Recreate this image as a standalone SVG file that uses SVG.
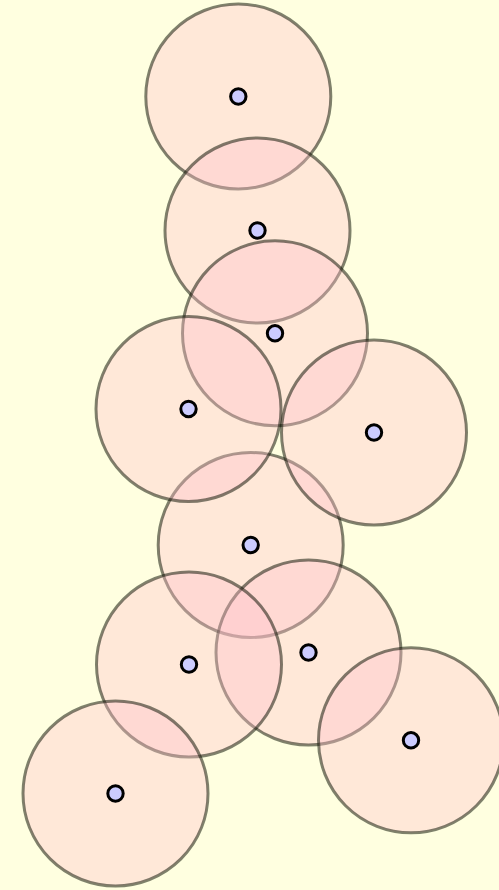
<svg xmlns="http://www.w3.org/2000/svg" width="499" height="890" viewBox="0 0 499 890">
<style>
.c{fill:rgb(255,192,203);fill-opacity:0.36;stroke:#0a0f00;stroke-opacity:0.52;stroke-width:3}
.p{fill:#ccccff;stroke:#000;stroke-width:3}
</style>
<rect width="499" height="890" fill="#ffffe0"/>
<g id="circles">
<circle class="c" cx="238.3" cy="96.5" r="92.5"/>
<circle class="c" cx="257.5" cy="230.5" r="92.5"/>
<circle class="c" cx="275" cy="333.3" r="92.5"/>
<circle class="c" cx="250.7" cy="545" r="92.5"/>
<circle class="c" cx="188.5" cy="409" r="92.5"/>
<circle class="c" cx="374" cy="432.5" r="92.5"/>
<circle class="c" cx="308.5" cy="652.5" r="92.5"/>
<circle class="c" cx="189" cy="664.5" r="92.5"/>
<circle class="c" cx="411" cy="740.3" r="92.5"/>
<circle class="c" cx="115.5" cy="793.5" r="92.5"/>
</g>
<g id="points">
<circle class="p" cx="238.3" cy="96.5" r="7.7"/>
<circle class="p" cx="257.5" cy="230.5" r="7.7"/>
<circle class="p" cx="275" cy="333.3" r="7.7"/>
<circle class="p" cx="188.5" cy="409" r="7.7"/>
<circle class="p" cx="374" cy="432.5" r="7.7"/>
<circle class="p" cx="250.7" cy="545" r="7.7"/>
<circle class="p" cx="189" cy="664.5" r="7.7"/>
<circle class="p" cx="308.5" cy="652.5" r="7.7"/>
<circle class="p" cx="411" cy="740.3" r="7.7"/>
<circle class="p" cx="115.5" cy="793.5" r="7.7"/>
</g>
</svg>
